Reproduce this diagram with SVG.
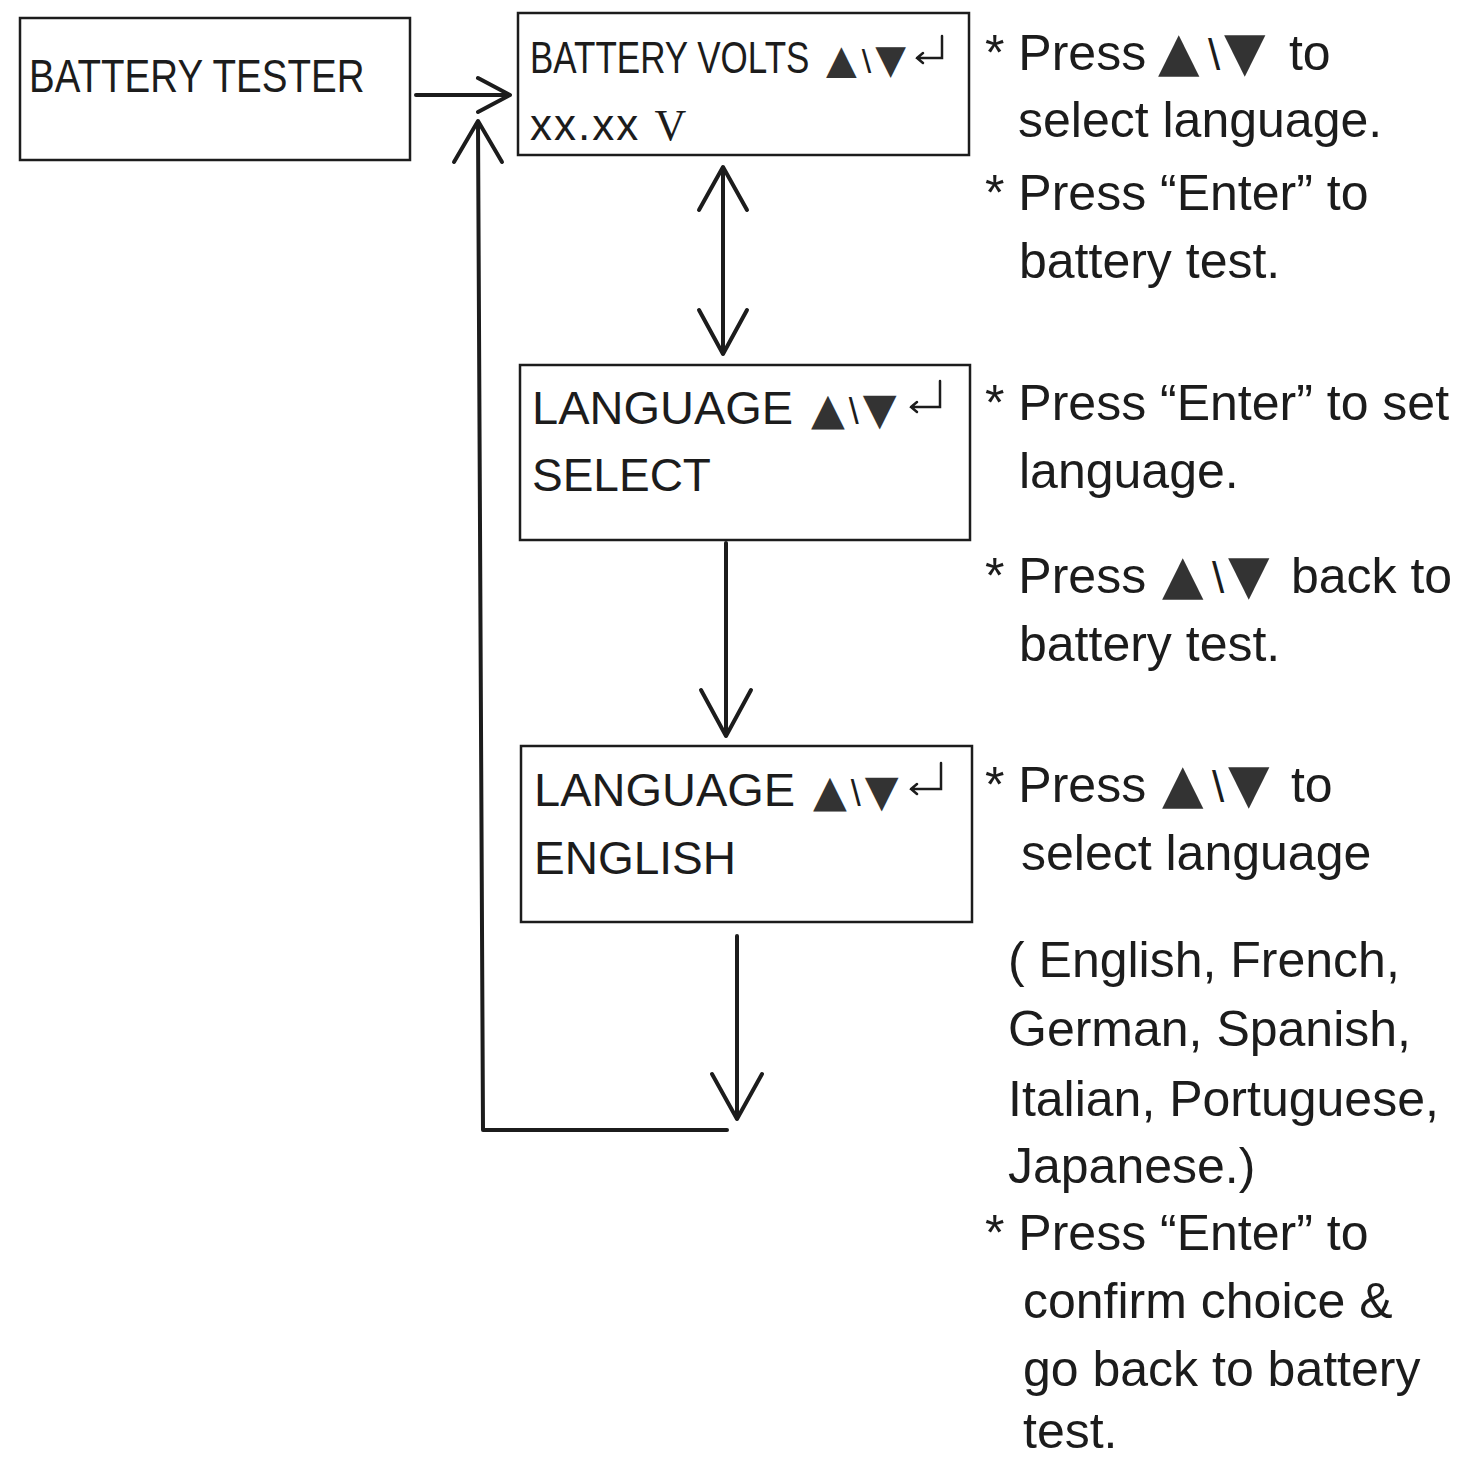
<svg xmlns="http://www.w3.org/2000/svg" width="1458" height="1461" viewBox="0 0 1458 1461">
<style>
  .box { fill: #fff; stroke: #1c1c1c; stroke-width: 2.5; }
  .t { font-family: "Liberation Sans", Arial, sans-serif; fill: #1c1c1c; }
  .bt { font-size: 47px; }
  .note { font-size: 50px; }
  .tri { font-family: "DejaVu Sans", sans-serif; fill: #333; }
  .serif { font-family: "Liberation Serif", "Times New Roman", serif; }
  .ln { fill: none; stroke: #1c1c1c; stroke-width: 4; stroke-linecap: round; stroke-linejoin: round; }
  .ent { fill: none; stroke: #1c1c1c; stroke-width: 2.5; stroke-linecap: round; stroke-linejoin: miter; }
</style>
<rect width="1458" height="1461" fill="#fff"/>

<g id="node-battery-tester">
  <rect class="box" x="20" y="18" width="390" height="142"/>
  <text class="t bt" transform="translate(29,92) scale(0.82,1)" x="0" y="0">BATTERY TESTER</text>
</g>

<g id="node-battery-volts">
  <rect class="box" x="518" y="13" width="451" height="142"/>
  <text class="t" transform="translate(530,73) scale(0.778,1)" x="0" y="0" font-size="45">BATTERY VOLTS</text>
  <text class="t" x="826" y="73"><tspan class="tri" font-size="40">▲</tspan><tspan font-size="34" dx="5">\</tspan><tspan class="tri" font-size="40" dx="4">▼</tspan></text>
  <path class="ent" d="M942,36 L942,58 L917,58 M923,53 L917,58 L923,63"/>
  <text class="t" x="530" y="140" font-size="44" letter-spacing="2">xx.xx <tspan class="serif" font-size="44">V</tspan></text>
</g>

<g id="node-language-select">
  <rect class="box" x="520" y="365" width="450" height="175"/>
  <text class="t" x="532" y="424" font-size="47">LANGUAGE</text>
  <text class="t" x="811" y="424"><tspan class="tri" font-size="44">▲</tspan><tspan font-size="36" dx="4">\</tspan><tspan class="tri" font-size="44" dx="4">▼</tspan></text>
  <path class="ent" d="M940,381 L940,407 L911,407 M917,402 L911,407 L917,412"/>
  <text class="t" x="532" y="491" font-size="46">SELECT</text>
</g>

<g id="node-language-english">
  <rect class="box" x="521" y="746" width="451" height="176"/>
  <text class="t" x="534" y="806" font-size="47">LANGUAGE</text>
  <text class="t" x="813" y="806"><tspan class="tri" font-size="44">▲</tspan><tspan font-size="36" dx="4">\</tspan><tspan class="tri" font-size="44" dx="4">▼</tspan></text>
  <path class="ent" d="M941,763 L941,789 L911,789 M917,784 L911,789 L917,794"/>
  <text class="t" x="534" y="874" font-size="46">ENGLISH</text>
</g>

<g id="connectors">
  <!-- BATTERY TESTER -> BATTERY VOLTS -->
  <path class="ln" d="M416,95 L508,95"/>
  <path class="ln" d="M478,78 L510,95 L478,112"/>
  <!-- BATTERY VOLTS <-> LANGUAGE SELECT -->
  <path class="ln" d="M723,168 L723,353"/>
  <path class="ln" d="M699,210 L723,167 L747,210"/>
  <path class="ln" d="M699,310 L723,354 L747,310"/>
  <!-- LANGUAGE SELECT -> LANGUAGE ENGLISH -->
  <path class="ln" d="M726,543 L726,735"/>
  <path class="ln" d="M701,690 L726,736 L751,690"/>
  <!-- LANGUAGE ENGLISH -> back to BATTERY VOLTS -->
  <path class="ln" d="M737,936 L737,1118"/>
  <path class="ln" d="M712,1074 L737,1119 L762,1074"/>
  <path class="ln" d="M727,1130 L483,1130 L478,123"/>
  <path class="ln" d="M454,162 L478,121 L502,162"/>
</g>

<g id="notes">
  <text class="t note" x="985" y="70">* Press <tspan class="tri" x="1158" font-size="54">▲</tspan><tspan x="1208" font-size="44">\</tspan><tspan class="tri" x="1224" font-size="54">▼</tspan><tspan x="1275"> to</tspan></text>
  <text class="t note" x="1018" y="137">select language.</text>
  <text class="t note" x="985" y="210">* Press “Enter” to</text>
  <text class="t note" x="1019" y="278">battery test.</text>
  <text class="t note" x="985" y="420">* Press “Enter” to set</text>
  <text class="t note" x="1019" y="488">language.</text>
  <text class="t note" x="985" y="593">* Press <tspan class="tri" x="1162" font-size="54">▲</tspan><tspan x="1212" font-size="44">\</tspan><tspan class="tri" x="1228" font-size="54">▼</tspan><tspan x="1277"> back to</tspan></text>
  <text class="t note" x="1019" y="661">battery test.</text>
  <text class="t note" x="985" y="802">* Press <tspan class="tri" x="1162" font-size="54">▲</tspan><tspan x="1212" font-size="44">\</tspan><tspan class="tri" x="1228" font-size="54">▼</tspan><tspan x="1277"> to</tspan></text>
  <text class="t note" x="1021" y="870">select language</text>
  <text class="t note" x="1008" y="977">( English, French,</text>
  <text class="t note" x="1008" y="1046">German, Spanish,</text>
  <text class="t note" x="1008" y="1116">Italian, Portuguese,</text>
  <text class="t note" x="1008" y="1183">Japanese.)</text>
  <text class="t note" x="985" y="1250">* Press “Enter” to</text>
  <text class="t note" x="1023" y="1318">confirm choice &amp;</text>
  <text class="t note" x="1023" y="1386">go back to battery</text>
  <text class="t note" x="1023" y="1448">test.</text>
</g>
</svg>
